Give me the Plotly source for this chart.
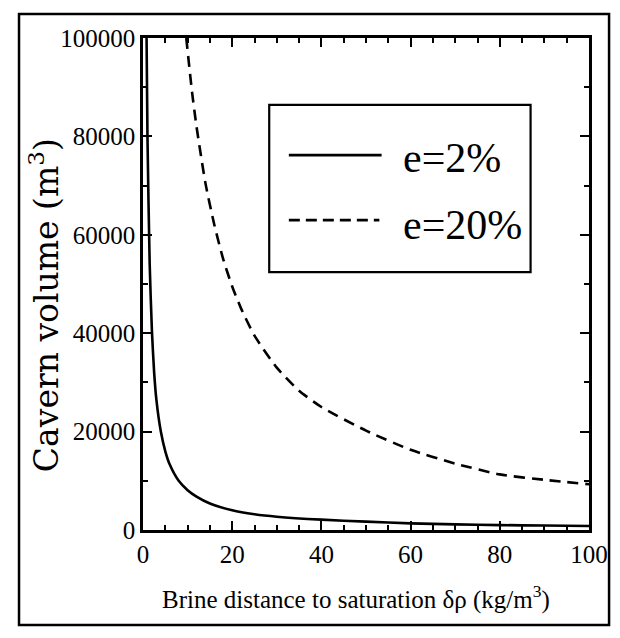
import plotly.graph_objects as go

# e = 2 %
x_e2 = [0.8, 1.0, 1.5, 2.0, 2.5, 3.0, 4.0, 5.0, 6.0, 8.0, 10, 12, 15, 20, 25, 30, 40, 50, 60, 70, 80, 90, 100]
v_e2 = [100000, 80000, 54000, 40500, 32000, 26500, 20000, 16000, 13300, 10000, 8100, 6800, 5400, 4000,
        3200, 2700, 2100, 1700, 1350, 1150, 1000, 900, 800]

# e = 20 %
x_e20 = [9.7, 11, 12, 14, 16, 18, 20, 22, 25, 30, 35, 40, 50, 60, 70, 80, 90, 100]
v_e20 = [100000, 89000, 82000, 70500, 62000, 55000, 49500, 45000, 39500, 33000, 28300, 25000,
         20200, 16300, 13500, 11300, 10200, 9300]

x_ticks = [0, 20, 40, 60, 80, 100]
y_ticks = [0, 20000, 40000, 60000, 80000, 100000]
series_names = ["e=2%", "e=20%"]

FONT = "Liberation Serif, Times New Roman, serif"

fig = go.Figure()
fig.add_trace(go.Scatter(x=x_e2, y=v_e2, mode="lines", name=series_names[0],
                         line=dict(color="black", width=2.6, shape="spline", smoothing=0.6)))
fig.add_trace(go.Scatter(x=x_e20, y=v_e20, mode="lines", name=series_names[1],
                         line=dict(color="black", width=2.6, dash="11px,7px", shape="spline", smoothing=0.6)))

axis_common = dict(
    showline=True, linecolor="black", linewidth=2.5, mirror="ticks",
    ticks="inside", tickcolor="black", tickwidth=2, ticklen=9,
    showgrid=False, zeroline=False,
    tickfont=dict(family=FONT, size=25, color="black"),
)

fig.update_xaxes(range=[0, 100], tickvals=x_ticks, ticktext=[str(t) for t in x_ticks],
                 minor=dict(dtick=5, ticks="inside", ticklen=5, tickwidth=1.5, tickcolor="black"),
                 **axis_common)
fig.update_yaxes(range=[0, 100000], tickvals=y_ticks, ticktext=[str(t) for t in y_ticks],
                 minor=dict(dtick=10000, ticks="inside", ticklen=5, tickwidth=1.5, tickcolor="black"),
                 **axis_common)

shapes = []
# outer frame
shapes.append(dict(type="rect", xref="paper", yref="paper", x0=-0.278, x1=1.045, y0=-0.193, y1=1.049,
                   line=dict(color="black", width=2.5), fillcolor="rgba(0,0,0,0)", layer="below"))
# legend box
shapes.append(dict(type="rect", xref="paper", yref="paper", x0=0.283, x1=0.869, y0=0.524, y1=0.864,
                   line=dict(color="black", width=2.2), fillcolor="white"))
# legend samples
shapes.append(dict(type="line", xref="paper", yref="paper", x0=0.327, x1=0.535, y0=0.762, y1=0.762,
                   line=dict(color="black", width=2.8)))
shapes.append(dict(type="line", xref="paper", yref="paper", x0=0.327, x1=0.530, y0=0.630, y1=0.630,
                   line=dict(color="black", width=2.8, dash="11px,6px")))

annotations = [
    dict(text=series_names[0], xref="paper", yref="paper", x=0.579, y=0.757, xanchor="left", yanchor="middle",
         showarrow=False, font=dict(family=FONT, size=42, color="black")),
    dict(text=series_names[1], xref="paper", yref="paper", x=0.579, y=0.620, xanchor="left", yanchor="middle",
         showarrow=False, font=dict(family=FONT, size=42, color="black")),
    dict(text="Cavern volume (m<sup>3</sup>)", xref="paper", yref="paper", x=-0.222, y=0.457,
         xanchor="center", yanchor="middle", textangle=-90, showarrow=False,
         font=dict(family="DejaVu Serif", size=33, color="black")),
    dict(text="Brine distance to saturation δρ (kg/m<sup>3</sup>)", xref="paper", yref="paper",
         x=0.477, y=-0.138, xanchor="center", yanchor="middle", showarrow=False,
         font=dict(family=FONT, size=25, color="black")),
]

fig.update_layout(
    width=620, height=638,
    margin=dict(l=143, r=28, t=38, b=108),
    paper_bgcolor="white", plot_bgcolor="white",
    showlegend=False,
    shapes=shapes, annotations=annotations,
)

fig.write_html("out.html")
